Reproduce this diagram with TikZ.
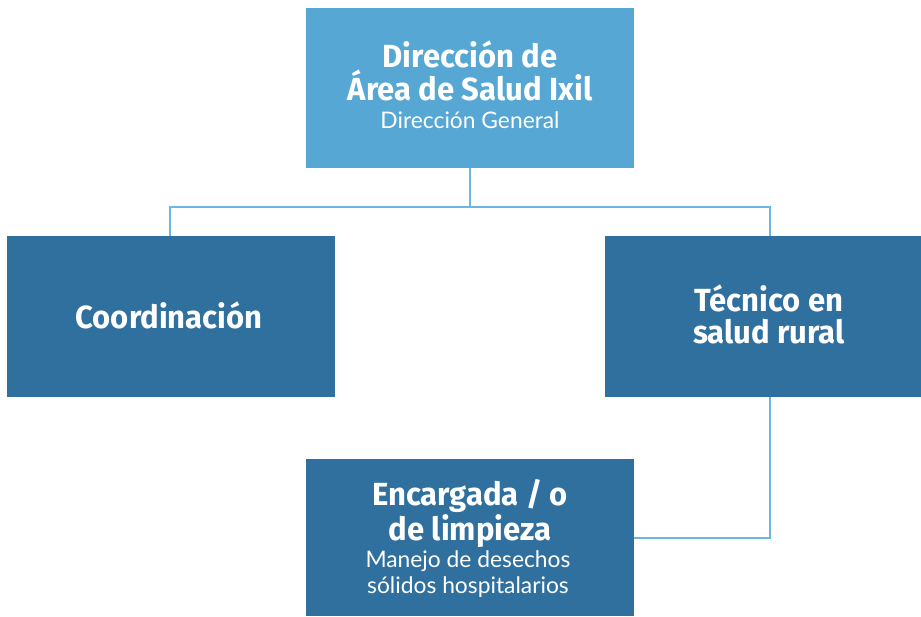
\documentclass[tikz,border=0pt]{standalone}
\usepackage{fontspec}
\setmainfont{Lato}
\newfontfamily\titlefont[FakeStretch=0.97]{Fira Sans}
\definecolor{lightbox}{HTML}{56A7D3}
\definecolor{darkbox}{HTML}{30709F}
\definecolor{conncol}{HTML}{6DB7DF}
\tikzset{
  box/.style={rectangle, inner sep=0pt, minimum width=328pt},
  conn/.style={draw=conncol, line width=2pt},
  ttl/.style={anchor=base, inner sep=0pt, text=white, font=\titlefont\bfseries\fontsize{32}{33}\selectfont},
  sub/.style={anchor=base, inner sep=0pt, text=white, font=\rmfamily\fontsize{22.8}{27}\selectfont},
}
\begin{document}
\begin{tikzpicture}[x=1pt,y=-1pt]
\useasboundingbox (0,0) rectangle (921,616);
\node[box, fill=lightbox, minimum height=160pt] (top) at (470,88) {};
\node[box, fill=darkbox, minimum height=161pt] (left) at (171,316.5) {};
\node[box, fill=darkbox, minimum height=161pt, minimum width=316pt] (right) at (763,316.5) {};
\node[box, fill=darkbox, minimum height=157pt] (bottom) at (470,537.5) {};
\node[ttl] (t1) at (470,67) {Dirección de};
\node[ttl] (t2) at (470,100) {Área de Salud Ixil};
\node[sub] (t3) at (470,128) {Dirección General};
\node[ttl] (l1) at (169,328) {Coordinación};
\node[ttl] (r1) at (769,311) {Técnico en};
\node[ttl] (r2) at (769,343) {salud rural};
\node[ttl] (b1) at (470,505) {Encargada / o};
\node[ttl] (b2) at (470,540) {de limpieza};
\node[sub] (b3) at (468,567) {Manejo de desechos};
\node[sub] (b4) at (468,593) {sólidos hospitalarios};
\coordinate (j) at (470,207);
\draw[conn] (top.south) -- (j) -| ([xshift=-1pt]left.north);
\draw[conn] (j) -| ([xshift=6.5pt]right.north);
\draw[conn] ([xshift=6.5pt]right.south) |- (bottom.east);
\end{tikzpicture}
\end{document}
